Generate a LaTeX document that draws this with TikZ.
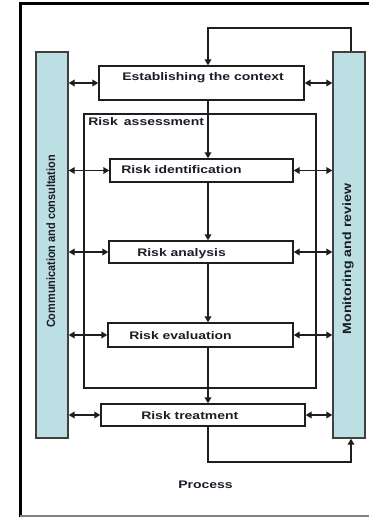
\documentclass[tikz,border=0pt]{standalone}
\usepackage{fontspec}
\setmainfont{Liberation Sans}
\usetikzlibrary{arrows.meta}
\definecolor{barblue}{RGB}{188,223,228}
\definecolor{txt}{RGB}{28,28,40}
\definecolor{edge}{RGB}{30,30,30}
\begin{document}
\begin{tikzpicture}[x=0.75pt,y=-0.75pt,
  box/.style={draw=edge, line width=1.1pt, inner sep=0pt, fill=white},
  bar/.style={draw=edge!85, fill=barblue, line width=1.1pt, inner sep=0pt},
  lbl/.style={inner sep=0pt, anchor=base west, text=txt,
    font=\bfseries\fontsize{8.25pt}{10pt}\selectfont},
  vlbl/.style={inner sep=0pt, anchor=base, rotate=90, text=txt,
    font=\bfseries\fontsize{9pt}{11pt}\selectfont},
  ln/.style={draw=edge, line width=1.1pt},
  arr/.style={ln, -{Triangle[length=4.5pt,width=5pt]}},
  dbl/.style={ln, {Triangle[length=4.5pt,width=5pt]}-{Triangle[length=4.5pt,width=5pt]}}
]
\useasboundingbox (0,0) rectangle (368,517);
\fill[white] (0,0) rectangle (368,517);
% outer frame
\draw[line width=2.25pt, black] (20,522) -- (20,4) -- (375,4);
\draw[gray, line width=0.9pt] (20,516) -- (375,516);

% bars
\node[bar, minimum width=32*0.75pt, minimum height=386*0.75pt] (lbar) at (52,245) {};
\node[bar, minimum width=32*0.75pt, minimum height=386*0.75pt] (rbar) at (349,245) {};
\node[vlbl] (ltext) at (55,241.5) {\scalebox{0.91}[1]{Communication and consultation}};
\node[vlbl] (rtext) at (351,259) {\scalebox{1.18}[1]{Monitoring and review}};

% risk assessment frame
\node[draw=edge, line width=1.1pt, inner sep=0pt, minimum width=232*0.75pt, minimum height=274*0.75pt] (assess) at (200,251) {};
\node[lbl] (assesstext) at (88,125.5) {\scalebox{1.27}[1]{Risk\, assessment}};

% process boxes
\node[box, minimum width=205*0.75pt, minimum height=34*0.75pt] (ctx) at (201.5,83) {};
\node[box, minimum width=183*0.75pt, minimum height=23*0.75pt] (ident) at (201.5,170.5) {};
\node[box, minimum width=184*0.75pt, minimum height=22*0.75pt] (anal) at (201,252) {};
\node[box, minimum width=185*0.75pt, minimum height=24*0.75pt] (eval) at (200.5,335) {};
\node[box, minimum width=204*0.75pt, minimum height=22*0.75pt] (treat) at (203,415) {};

\node[lbl] (ctxtext) at (122,80.5) {\scalebox{1.27}[1]{Establishing the context}};
\node[lbl] (identtext) at (121,173) {\scalebox{1.27}[1]{Risk identification}};
\node[lbl] (analtext) at (137,256) {\scalebox{1.27}[1]{Risk analysis}};
\node[lbl] (evaltext) at (129,339) {\scalebox{1.27}[1]{Risk evaluation}};
\node[lbl] (treattext) at (141,419) {\scalebox{1.27}[1]{Risk treatment}};
\node[lbl] (process) at (178,488) {\scalebox{1.27}[1]{Process}};

% guide coordinates
\coordinate (cx) at (208,0);
\coordinate (tl) at (351,28);
\coordinate (bl) at (351,462);

% main flow
\draw[arr] (ctx.south -| cx) -- (ident.north -| cx);
\draw[arr] (ident.south -| cx) -- (anal.north -| cx);
\draw[arr] (anal.south -| cx) -- (eval.north -| cx);
\draw[arr] (eval.south -| cx) -- (treat.north -| cx);

% loops
\draw[arr] (rbar.north -| tl) -- (tl) -| (ctx.north -| cx);
\draw[arr] (treat.south -| cx) |- (bl) -- (rbar.south -| bl);

% side double arrows
\foreach \b in {ctx,ident,anal,eval,treat}{
  \draw[dbl] (lbar.east |- \b.west) -- (\b.west);
  \draw[dbl] (\b.east) -- (rbar.west |- \b.east);
}
\end{tikzpicture}
\end{document}
